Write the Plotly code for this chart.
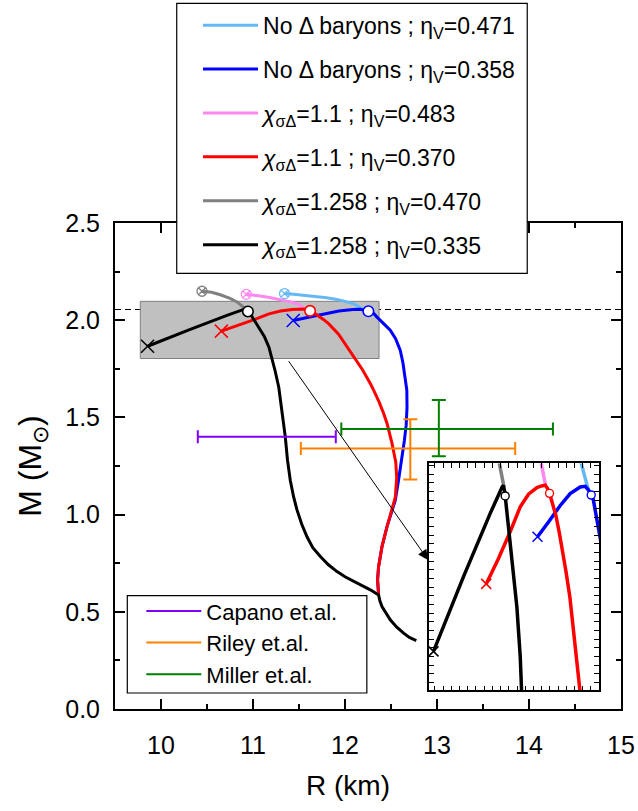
import plotly.graph_objects as go

FONT = "Liberation Sans, Arial, sans-serif"

# ---------------- data ----------------
# x_sigmaDelta = 1.258 ; eta_V = 0.335  (black)
BLACK_R = [12.775, 12.70, 12.637, 12.56, 12.492, 12.44, 12.402, 12.38, 12.365,
           12.275, 12.130, 12.00, 11.913, 11.82, 11.732, 11.65, 11.587, 11.53,
           11.478, 11.441, 11.405, 11.375, 11.351, 11.315, 11.28, 11.24, 11.20,
           11.174, 11.123, 11.072, 11.021, 10.981, 10.945, 10.932, 10.919, 10.90,
           10.880, 10.717, 10.311, 9.854]
BLACK_M = [0.352, 0.368, 0.390, 0.422, 0.459, 0.495, 0.527, 0.555, 0.587,
           0.613, 0.647, 0.680, 0.707, 0.742, 0.784, 0.830, 0.886, 0.950,
           1.024, 1.092, 1.177, 1.280, 1.400, 1.537, 1.655, 1.740, 1.815,
           1.860, 1.917, 1.956, 1.994, 2.025, 2.045, 2.052, 2.057, 2.0555,
           2.0524, 2.0249, 1.952, 1.866]

# x_sigmaDelta = 1.258 ; eta_V = 0.470  (gray)
GRAY_R = [10.925, 10.89, 10.859, 10.826, 10.75, 10.645, 10.55, 10.446]
GRAY_M = [2.056, 2.070, 2.0825, 2.094, 2.112, 2.131, 2.144, 2.149]

# x_sigmaDelta = 1.1 ; eta_V = 0.370  (red)
RED_R = [12.365, 12.354, 12.365, 12.38, 12.402, 12.457, 12.511, 12.547, 12.562,
         12.552, 12.511, 12.485, 12.457, 12.42, 12.37, 12.311, 12.275, 12.19,
         12.093, 12.00, 11.93, 11.87, 11.818, 11.765, 11.716, 11.665, 11.62,
         11.585, 11.554, 11.50, 11.428, 11.300, 11.174, 11.021, 10.843, 10.656]
RED_M = [0.590, 0.664, 0.732, 0.785, 0.835, 0.938, 1.024, 1.090, 1.190,
         1.270, 1.366, 1.420, 1.469, 1.520, 1.580, 1.640, 1.674, 1.745,
         1.811, 1.875, 1.928, 1.958, 1.984, 2.004, 2.0225, 2.037, 2.048,
         2.054, 2.0574, 2.0565, 2.0547, 2.047, 2.0325, 2.0038, 1.973, 1.9437]

# x_sigmaDelta = 1.1 ; eta_V = 0.483  (pink)
PINK_R = [11.56, 11.54, 11.515, 11.493, 11.42, 11.297, 11.18, 11.080, 10.927]
PINK_M = [2.057, 2.066, 2.073, 2.0825, 2.093, 2.107, 2.117, 2.124, 2.133]

# No Delta baryons ; eta_V = 0.358  (blue)
BLUE_R = [12.365, 12.354, 12.365, 12.38, 12.402, 12.457, 12.511, 12.547, 12.583,
          12.620, 12.645, 12.665, 12.674, 12.672, 12.655, 12.63, 12.601, 12.55,
          12.492, 12.43, 12.376, 12.348, 12.315, 12.285, 12.254, 12.21, 12.163,
          12.087, 11.934, 11.783, 11.604, 11.437]
BLUE_M = [0.590, 0.664, 0.732, 0.785, 0.835, 0.938, 1.024, 1.074, 1.180,
          1.290, 1.380, 1.460, 1.550, 1.640, 1.708, 1.780, 1.845, 1.905,
          1.948, 1.980, 2.003, 2.016, 2.033, 2.041, 2.046, 2.052, 2.056,
          2.0553, 2.0477, 2.034, 2.015, 1.998]

# No Delta baryons ; eta_V = 0.471  (light blue)
LBLUE_R = [12.21, 12.19, 12.15, 12.102, 12.00, 11.913, 11.80, 11.659, 11.55, 11.441, 11.343]
LBLUE_M = [2.052, 2.058, 2.070, 2.0825, 2.097, 2.107, 2.116, 2.124, 2.129, 2.133, 2.137]

# special points: open circles, crosses (end of unstable branch), crossed circles
CIRCLE_R = [10.945, 11.62, 12.254]
CIRCLE_M = [2.045, 2.048, 2.046]
CROSS_R = [9.854, 10.656, 11.437]
CROSS_M = [1.866, 1.9437, 1.998]
XCIRC_R = [10.446, 10.927, 11.343]
XCIRC_M = [2.149, 2.133, 2.137]

# observational constraints (R, M with asymmetric errors)
OBS_NAMES = ["Capano et.al.", "Riley et.al.", "Miller et.al."]
OBS_R = [11.0, 12.71, 13.02]
OBS_R_PLUS = [0.90, 1.14, 1.24]
OBS_R_MINUS = [0.60, 1.19, 1.06]
OBS_M = [1.40, 1.34, 1.44]
OBS_M_PLUS = [0.0, 0.15, 0.15]
OBS_M_MINUS = [0.0, 0.16, 0.14]

M_MAX_LINE = 2.055
ZOOM_BOX_R = [9.775, 12.37]
ZOOM_BOX_M = [1.803, 2.097]
INSET_R = [9.793, 12.376]
INSET_M = [1.821, 2.0825]
ARROW_FROM = (11.376, 1.797)
ARROW_TO = (12.902, 0.767)

X_TICKS = [10, 11, 12, 13, 14, 15]
Y_TICKS = [0.0, 0.5, 1.0, 1.5, 2.0, 2.5]

# ---------------- figure ----------------
C_LB, C_B, C_PK, C_R, C_G, C_K = "#66b8f5", "#0000ff", "#ff88f0", "#ff0000", "#808080", "#000000"
C_OBS = ["#8000ff", "#ff8000", "#008000"]

CHI = "<i>\u03c7</i><sub>\u03c3\u0394</sub>"
ETA = "\u03b7<sub>V</sub>"
curves = [
    (LBLUE_R, LBLUE_M, "No \u0394 baryons ; " + ETA + "=0.471", C_LB),
    (BLUE_R, BLUE_M, "No \u0394 baryons ; " + ETA + "=0.358", C_B),
    (PINK_R, PINK_M, CHI + "=1.1 ; " + ETA + "=0.483", C_PK),
    (RED_R, RED_M, CHI + "=1.1 ; " + ETA + "=0.370", C_R),
    (GRAY_R, GRAY_M, CHI + "=1.258 ; " + ETA + "=0.470", C_G),
    (BLACK_R, BLACK_M, CHI + "=1.258 ; " + ETA + "=0.335", C_K),
]

fig = go.Figure()

for i, (r, m, name, c) in enumerate(curves):
    fig.add_trace(go.Scatter(x=r, y=m, mode="lines", name=name, legend="legend",
                             legendgroup="g%d" % i, line=dict(color=c, width=3)))
for r, m, name, c in curves:
    fig.add_trace(go.Scatter(x=r, y=m, mode="lines", xaxis="x2", yaxis="y2",
                             showlegend=False, line=dict(color=c, width=3.5)))

circ_cols = [C_K, C_R, C_B]
cross_cols = [C_K, C_R, C_B]
xc_cols = [C_G, C_PK, C_LB]

# main-panel markers
fig.add_trace(go.Scatter(x=XCIRC_R, y=XCIRC_M, mode="markers", showlegend=False,
                         marker=dict(symbol="circle-x-open", size=10, color=xc_cols, line=dict(width=1.3))))
fig.add_trace(go.Scatter(x=CROSS_R, y=CROSS_M, mode="markers", showlegend=False,
                         marker=dict(symbol="x-thin", size=13, line=dict(width=1.5, color=cross_cols))))
fig.add_trace(go.Scatter(x=CIRCLE_R, y=CIRCLE_M, mode="markers", showlegend=False,
                         marker=dict(symbol="circle", size=10.5, color="white", line=dict(width=1.6, color=circ_cols))))
# inset markers
fig.add_trace(go.Scatter(x=CROSS_R, y=CROSS_M, mode="markers", showlegend=False, xaxis="x2", yaxis="y2",
                         cliponaxis=False,
                         marker=dict(symbol="x-thin", size=10, line=dict(width=1.5, color=cross_cols))))
fig.add_trace(go.Scatter(x=CIRCLE_R, y=CIRCLE_M, mode="markers", showlegend=False, xaxis="x2", yaxis="y2",
                         marker=dict(symbol="circle", size=8, color="white", line=dict(width=1.4, color=circ_cols))))

# observational error bars
for k in range(3):
    if OBS_M_PLUS[k] > 0:
        ey = dict(type="data", symmetric=False, array=[OBS_M_PLUS[k]], arrayminus=[OBS_M_MINUS[k]],
                  color=C_OBS[k], thickness=2, width=7)
    else:
        ey = dict(visible=False)
    fig.add_trace(go.Scatter(
        x=[OBS_R[k]], y=[OBS_M[k]], mode="lines", name=OBS_NAMES[k], legend="legend2",
        line=dict(color=C_OBS[k], width=2),
        error_x=dict(type="data", symmetric=False, array=[OBS_R_PLUS[k]], arrayminus=[OBS_R_MINUS[k]],
                     color=C_OBS[k], thickness=2, width=6.5),
        error_y=ey))

axis_common = dict(showgrid=False, zeroline=False, showline=True, linecolor="black",
                   mirror="allticks", ticks="inside", tickcolor="black")

fig.update_layout(
    width=638, height=811,
    margin=dict(l=115, r=17.3, t=222.6, b=101.7, autoexpand=False),
    plot_bgcolor="white", paper_bgcolor="white",
    font=dict(family=FONT, color="black"),
    xaxis=dict(range=[9.5, 15], tickvals=X_TICKS, ticklen=10, tickwidth=2, linewidth=2,
               minor=dict(dtick=0.5, ticklen=5, tickwidth=2, ticks="inside", tickcolor="black"),
               tickfont=dict(size=25), ticklabelstandoff=13, **axis_common),
    yaxis=dict(range=[0, 2.5], tickvals=Y_TICKS, tickformat=".1f", ticklen=10, tickwidth=2, linewidth=2,
               minor=dict(dtick=0.25, ticklen=5, tickwidth=2, ticks="inside", tickcolor="black"),
               tickfont=dict(size=25), ticklabelstandoff=8,
               title=dict(text="M (M<sub>\u2299</sub>)", font=dict(size=32), standoff=14), **axis_common),
    xaxis2=dict(domain=[0.6215, 0.957], anchor="y2", range=INSET_R, dtick=0.125, tick0=9.75,
                ticklen=5, tickwidth=1, linewidth=1.5, showticklabels=False, **axis_common),
    yaxis2=dict(domain=[0.0382, 0.5054], anchor="x2", range=INSET_M, dtick=0.01,
                ticklen=5, tickwidth=1, linewidth=1.5, showticklabels=False, **axis_common),
    legend=dict(x=0.1641, y=1.4512, xanchor="left", yanchor="top", bgcolor="rgba(0,0,0,0)",
                borderwidth=0, font=dict(size=23, family=FONT),
                itemwidth=55, tracegroupgap=11, traceorder="grouped"),
    legend2=dict(x=0.052, y=0.2445, xanchor="left", yanchor="top", bgcolor="rgba(0,0,0,0)",
                 borderwidth=0, font=dict(size=22, family=FONT),
                 itemwidth=55, traceorder="normal"),
    shapes=[
        dict(type="rect", xref="x", yref="y", x0=ZOOM_BOX_R[0], x1=ZOOM_BOX_R[1],
             y0=ZOOM_BOX_M[0], y1=ZOOM_BOX_M[1], fillcolor="#c0c0c0",
             line=dict(color="#808080", width=1), layer="below"),
        dict(type="line", xref="x domain", yref="y", x0=0, x1=1, y0=M_MAX_LINE, y1=M_MAX_LINE,
             line=dict(color="black", width=1, dash="6px,4px"), layer="below"),
        dict(type="line", xref="x2 domain", yref="y2", x0=0, x1=1, y0=M_MAX_LINE, y1=M_MAX_LINE,
             line=dict(color="black", width=1, dash="3px,2px"), layer="below"),
        # legend frames
        dict(type="rect", xref="paper", yref="paper", x0=0.1220, x1=0.8147, y0=0.8965, y1=1.4518,
             fillcolor="white", line=dict(color="black", width=1.2), layer="above"),
        dict(type="rect", xref="paper", yref="paper", x0=0.0243, x1=0.4977, y0=0.0329, y1=0.2334,
             fillcolor="white", line=dict(color="black", width=1.2), layer="above"),
    ],
    annotations=[
        dict(x=ARROW_TO[0], y=ARROW_TO[1], ax=ARROW_FROM[0], ay=ARROW_FROM[1],
             xref="x", yref="y", axref="x", ayref="y", text="", showarrow=True,
             arrowhead=2, arrowsize=2, arrowwidth=1, arrowcolor="black", standoff=0),
        dict(text="R (km)", xref="paper", yref="paper", x=0.46, y=-0.158,
             xanchor="center", yanchor="middle", showarrow=False, font=dict(size=28)),
    ],
)

fig.write_html("out.html")
